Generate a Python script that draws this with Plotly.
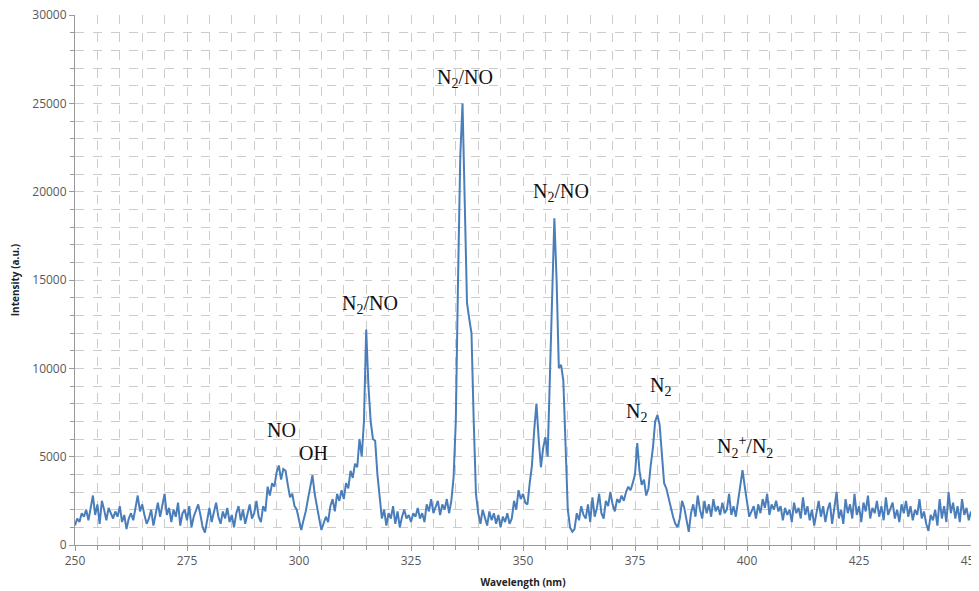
import numpy as np
import plotly.graph_objects as go

# Wavelength grid (nm), 0.5 nm steps from 250 to 450
wavelength = [250 + 0.5 * i for i in range(401)]

intensity = [
    # 250-259.5
    1100, 1500, 1300, 1800, 1600, 2000, 1400, 2200, 2800, 1700, 2300, 1200, 2500, 2000, 1400, 2100, 1800, 1500, 1900, 1600,
    # 260-269.5
    2200, 1300, 1700, 900, 1500, 1800, 1400, 2100, 2800, 1900, 2300, 1700, 1200, 1500, 2000, 1100, 1700, 2400, 1600, 2300,
    # 270-279.5
    2900, 1700, 2100, 1300, 2000, 1600, 2400, 1100, 1800, 2000, 1400, 2200, 1000, 1600, 1900, 2300, 1700, 1000, 700, 1500,
    # 280-289.5
    2100, 1300, 1800, 2400, 1600, 1200, 1900, 1500, 2100, 1300, 1700, 1000, 1800, 2200, 1400, 2000, 1200, 1700, 2300, 1500,
    # 290-299.5
    1800, 2500, 1600, 1300, 2200, 1900, 3300, 2800, 3500, 3300, 4100, 4500, 3700, 4300, 4200, 3400, 2700, 2900, 2200, 2000,
    # 300-309.5
    1500, 850, 1400, 1900, 2600, 3300, 3950, 2900, 2300, 1500, 850, 1200, 1600, 1300, 2200, 2600, 1900, 2900, 2500, 3100,
    # 310-319.5
    2600, 3500, 3200, 4200, 3800, 4600, 4400, 6000, 5000, 7000, 12200, 9000, 7000, 6000, 5900, 4000, 2500, 1500, 2000, 1100,
    # 320-329.5
    1800, 1500, 2200, 1200, 1900, 1000, 1600, 2000, 1500, 1700, 1300, 1800, 1600, 2100, 1500, 1800, 1300, 2300, 1900, 2600,
    # 330-339.5
    1800, 2100, 2500, 1700, 2300, 2000, 2600, 1800, 2500, 3800, 7000, 15000, 22000, 25000, 19000, 13700, 12800, 12000, 7000, 2900,
    # 340-349.5
    1800, 1200, 2000, 1500, 1100, 1900, 1400, 1800, 1200, 1700, 1000, 1600, 1300, 1800, 1200, 1500, 2500, 2000, 3100, 2600,
    # 350-359.5
    2900, 2400, 2300, 3500, 4500, 6500, 8000, 6000, 4400, 5500, 6100, 5000, 9000, 14000, 18500, 15000, 10000, 10200, 9300, 5000,
    # 360-369.5
    2000, 1000, 750, 900, 1800, 1400, 2200, 1700, 1500, 2300, 1300, 2700, 1600, 2100, 2900, 1800, 1500, 2500, 2200, 3000,
    # 370-379.5
    2300, 1900, 2600, 2400, 2800, 2500, 3000, 3300, 3100, 3500, 4000, 5770, 4200, 3400, 3700, 2800, 3200, 4500, 5500, 7000,
    # 380-389.5
    7360, 6800, 5000, 3500, 3200, 2600, 2000, 1600, 1200, 1000, 1500, 2500, 2100, 1300, 740, 1800, 2300, 1600, 2800, 2000,
    # 390-399.5
    1500, 2500, 1800, 2300, 1600, 2600, 1900, 2200, 1700, 2400, 1800, 2000, 2900, 1700, 2200, 1600, 2400, 3200, 4240, 3300,
    # 400-409.5
    2500, 1600, 1900, 2200, 1500, 2300, 1800, 2600, 2100, 2900, 1700, 2300, 2000, 2500, 1900, 2200, 1400, 2100, 1700, 2000,
    # 410-419.5
    1300, 2400, 1800, 2100, 1500, 2700, 1700, 2200, 1400, 2000, 1100, 1900, 2500, 1600, 2200, 1300, 2000, 2400, 1200, 2100,
    # 420-429.5
    3000, 1500, 2000, 1200, 2600, 1800, 2300, 1500, 2900, 1700, 2200, 1300, 2400, 1900, 2800, 1500, 2100, 1800, 2500, 1600,
    # 430-439.5
    2200, 1400, 2700, 1700, 2100, 2400, 1500, 2000, 1300, 2300, 1800, 2500, 1600, 2200, 1400, 2000, 1700, 2600, 1500, 1900,
    # 440-449.5
    1200, 800, 1700, 1400, 2000, 1100, 2600, 1500, 2200, 1300, 3000, 1800, 2400, 1500, 2200, 1300, 2600, 1700, 2100, 1400,
    # 450
    1900,
]

# Peak labels
label_text = [
    "NO", "OH", "N<sub>2</sub>/NO", "N<sub>2</sub>/NO", "N<sub>2</sub>/NO",
    "N<sub>2</sub>", "N<sub>2</sub>", "N<sub>2</sub><sup>+</sup>/N<sub>2</sub>",
]
label_x = [296.2, 303.3, 315.8, 337.0, 358.5, 375.4, 380.8, 399.6]
label_y = [6500, 5200, 13600, 26400, 19950, 7500, 8950, 5550]

fig = go.Figure()
fig.add_trace(go.Scatter(
    x=wavelength, y=intensity, mode="lines",
    line=dict(color="#4a7ebb", width=2),
    showlegend=False,
))

for t, xx, yy in zip(label_text, label_x, label_y):
    fig.add_annotation(
        x=xx, y=yy, text=t, showarrow=False,
        font=dict(family="Liberation Serif, Times New Roman, serif", size=20, color="#111111"),
    )

grid_col = "#cccccc"
fig.update_layout(
    width=971, height=583,
    margin=dict(l=67, r=8, t=7, b=46),
    paper_bgcolor="white", plot_bgcolor="white",
    font=dict(family="Open Sans, Liberation Sans, sans-serif", size=12, color="#595959"),
    xaxis=dict(
        range=[250, 450], dtick=25, tick0=250, tickformat="d",
        automargin=False, ticklabeloverflow="allow",
        showgrid=True, gridcolor=grid_col, griddash="dash", gridwidth=1,
        showline=True, linecolor="#9a9a9a", linewidth=1,
        ticks="outside", ticklen=5, tickcolor="#9a9a9a",
        minor=dict(dtick=5, showgrid=True, gridcolor=grid_col, griddash="dash",
                   ticks="outside", ticklen=4, tickcolor="#9a9a9a"),
        zeroline=False,
        title=dict(text="<b>Wavelength (nm)</b>", font=dict(size=10, color="#222222"), standoff=10),
        tickfont=dict(size=12, color="#595959"),
    ),
    yaxis=dict(
        range=[0, 30000], dtick=5000, tick0=0, tickformat="d",
        automargin=False, ticklabeloverflow="allow",
        showgrid=True, gridcolor=grid_col, griddash="dash", gridwidth=1,
        showline=True, linecolor="#9a9a9a", linewidth=1,
        ticks="outside", ticklen=5, tickcolor="#9a9a9a",
        minor=dict(dtick=1000, showgrid=True, gridcolor=grid_col, griddash="dash",
                   ticks="outside", ticklen=4, tickcolor="#9a9a9a"),
        zeroline=False,
        title=dict(text="<b>Intensity (a.u.)</b>", font=dict(size=10, color="#222222"), standoff=12),
        tickfont=dict(size=12, color="#595959"),
    ),
)

fig.write_html("out.html")
